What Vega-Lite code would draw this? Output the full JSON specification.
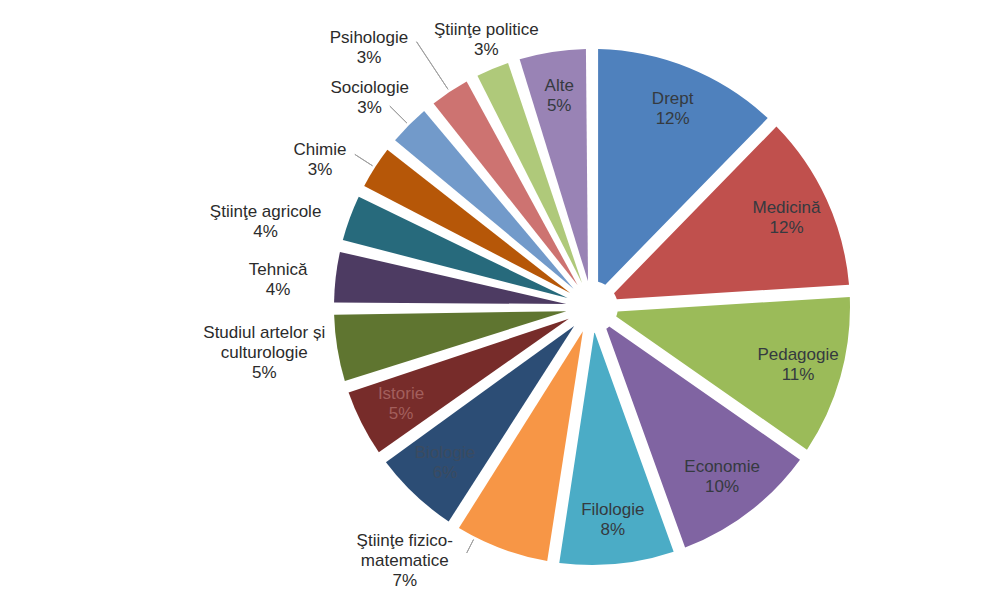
{
  "$schema": "https://vega.github.io/schema/vega-lite/v6.json",
  "width": 516,
  "height": 516,
  "autosize": {"type": "none"},
  "padding": {"left": 334, "top": 49, "right": 150, "bottom": 27},
  "background": "white",
  "config": {"view": {"stroke": null}, "text": {"font": "Liberation Sans"}},
  "data": {
    "values": [
      {"i": 1, "cat": "Drept", "v": 12.3},
      {"i": 2, "cat": "Medicină", "v": 11.7},
      {"i": 3, "cat": "Pedagogie", "v": 10.7},
      {"i": 4, "cat": "Economie", "v": 9.8},
      {"i": 5, "cat": "Filologie", "v": 7.9},
      {"i": 6, "cat": "Ştiinţe fizico-\nmatematice", "v": 6.6},
      {"i": 7, "cat": "Biologie", "v": 6.1},
      {"i": 8, "cat": "Istorie", "v": 4.9},
      {"i": 9, "cat": "Studiul artelor și\nculturologie", "v": 4.9},
      {"i": 10, "cat": "Tehnică", "v": 3.9},
      {"i": 11, "cat": "Ştiinţe agricole", "v": 3.6},
      {"i": 12, "cat": "Chimie", "v": 3.4},
      {"i": 13, "cat": "Sociologie", "v": 3.3},
      {"i": 14, "cat": "Psihologie", "v": 3.2},
      {"i": 15, "cat": "Ştiinţe politice", "v": 2.8},
      {"i": 16, "cat": "Alte", "v": 4.9}
    ]
  },
  "transform": [
    {"stack": "v", "groupby": [], "sort": [{"field": "i", "order": "ascending"}], "as": ["s0", "s1"]},
    {"calculate": "(datum.s0 + datum.s1) / 2", "as": "mid"},
    {"calculate": "datum.cat + '\\n' + format(datum.v, '.0f') + '%'", "as": "lbl"}
  ],
  "layer": [
    {
      "mark": {"type": "arc", "outerRadius": 258, "innerRadius": 26, "padAngle": 0.047},
      "encoding": {
        "theta": {"field": "s0", "type": "quantitative", "stack": null, "scale": {"domain": [0, 100]}},
        "theta2": {"field": "s1"},
        "color": {
          "field": "cat",
          "type": "nominal",
          "legend": null,
          "scale": {
            "domain": ["Drept", "Medicină", "Pedagogie", "Economie", "Filologie", "Ştiinţe fizico-\nmatematice", "Biologie", "Istorie", "Studiul artelor și\nculturologie", "Tehnică", "Ştiinţe agricole", "Chimie", "Sociologie", "Psihologie", "Ştiinţe politice", "Alte"],
            "range": ["#4F81BD", "#C0504D", "#9BBB59", "#8064A2", "#4BACC6", "#F79646", "#2C4D75", "#772C2A", "#5F7530", "#4D3B62", "#276A7C", "#B65708", "#729ACA", "#CD7371", "#AFC97A", "#9983B5"]
          }
        }
      }
    },
    {
      "transform": [{"filter": "indexof([1, 2, 3, 4, 5, 7, 8, 16], datum.i) >= 0"}],
      "mark": {"type": "text", "radius": 214, "dy": -10, "fontSize": 17, "lineHeight": 20, "lineBreak": "\n", "align": "center", "baseline": "middle"},
      "encoding": {
        "theta": {"field": "mid", "type": "quantitative", "stack": null, "scale": {"domain": [0, 100]}},
        "text": {"field": "lbl"},
        "color": {
          "condition": [
            {"test": "datum.i === 8", "value": "#a35f5c"},
            {"test": "datum.i === 7", "value": "#3b4b60"}
          ],
          "value": "#353a40"
        }
      }
    },
    {
      "transform": [{"filter": "datum.i === 15"}],
      "mark": {"type": "text", "radius": 287, "dx": 5, "dy": -12, "fontSize": 17, "lineHeight": 20, "lineBreak": "\n", "align": "center", "baseline": "middle", "color": "#2b2b2b"},
      "encoding": {"theta": {"field": "mid", "type": "quantitative", "stack": null, "scale": {"domain": [0, 100]}}, "text": {"field": "lbl"}}
    },
    {
      "transform": [{"filter": "datum.i === 14"}],
      "mark": {"type": "text", "radius": 339, "dx": -36, "dy": 14, "fontSize": 17, "lineHeight": 20, "lineBreak": "\n", "align": "center", "baseline": "middle", "color": "#2b2b2b"},
      "encoding": {"theta": {"field": "mid", "type": "quantitative", "stack": null, "scale": {"domain": [0, 100]}}, "text": {"field": "lbl"}}
    },
    {
      "transform": [{"filter": "datum.i === 13"}],
      "mark": {"type": "text", "radius": 305, "dx": -6, "dy": -4, "fontSize": 17, "lineHeight": 20, "lineBreak": "\n", "align": "center", "baseline": "middle", "color": "#2b2b2b"},
      "encoding": {"theta": {"field": "mid", "type": "quantitative", "stack": null, "scale": {"domain": [0, 100]}}, "text": {"field": "lbl"}}
    },
    {
      "transform": [{"filter": "datum.i === 12"}],
      "mark": {"type": "text", "radius": 308, "dx": -13, "dy": 10, "fontSize": 17, "lineHeight": 20, "lineBreak": "\n", "align": "center", "baseline": "middle", "color": "#2b2b2b"},
      "encoding": {"theta": {"field": "mid", "type": "quantitative", "stack": null, "scale": {"domain": [0, 100]}}, "text": {"field": "lbl"}}
    },
    {
      "transform": [{"filter": "datum.i === 11"}],
      "mark": {"type": "text", "radius": 336, "dx": -11, "dy": 21, "fontSize": 17, "lineHeight": 20, "lineBreak": "\n", "align": "center", "baseline": "middle", "color": "#2b2b2b"},
      "encoding": {"theta": {"field": "mid", "type": "quantitative", "stack": null, "scale": {"domain": [0, 100]}}, "text": {"field": "lbl"}}
    },
    {
      "transform": [{"filter": "datum.i === 10"}],
      "mark": {"type": "text", "radius": 315, "dx": -1, "dy": 0, "fontSize": 17, "lineHeight": 20, "lineBreak": "\n", "align": "center", "baseline": "middle", "color": "#2b2b2b"},
      "encoding": {"theta": {"field": "mid", "type": "quantitative", "stack": null, "scale": {"domain": [0, 100]}}, "text": {"field": "lbl"}}
    },
    {
      "transform": [{"filter": "datum.i === 9"}],
      "mark": {"type": "text", "radius": 331, "dx": -1, "dy": -27, "fontSize": 17, "lineHeight": 20, "lineBreak": "\n", "align": "center", "baseline": "middle", "color": "#2b2b2b"},
      "encoding": {"theta": {"field": "mid", "type": "quantitative", "stack": null, "scale": {"domain": [0, 100]}}, "text": {"field": "lbl"}}
    },
    {
      "transform": [{"filter": "datum.i === 6"}],
      "mark": {"type": "text", "radius": 303, "dx": -81, "dy": -50, "fontSize": 17, "lineHeight": 20, "lineBreak": "\n", "align": "center", "baseline": "middle", "color": "#2b2b2b"},
      "encoding": {"theta": {"field": "mid", "type": "quantitative", "stack": null, "scale": {"domain": [0, 100]}}, "text": {"field": "lbl"}}
    },
    {
      "transform": [{"filter": "datum.i === 14"}],
      "mark": {"type": "arc", "radius": 318, "radius2": 261, "filled": false, "color": "#a0a0a0", "strokeWidth": 1},
      "encoding": {"theta": {"field": "mid", "type": "quantitative", "stack": null, "scale": {"domain": [0, 100]}}, "theta2": {"field": "mid"}}
    },
    {
      "transform": [{"filter": "datum.i === 13"}],
      "mark": {"type": "arc", "radius": 285, "radius2": 261, "filled": false, "color": "#a0a0a0", "strokeWidth": 1},
      "encoding": {"theta": {"field": "mid", "type": "quantitative", "stack": null, "scale": {"domain": [0, 100]}}, "theta2": {"field": "mid"}}
    },
    {
      "transform": [{"filter": "datum.i === 12"}],
      "mark": {"type": "arc", "radius": 282, "radius2": 261, "filled": false, "color": "#a0a0a0", "strokeWidth": 1},
      "encoding": {"theta": {"field": "mid", "type": "quantitative", "stack": null, "scale": {"domain": [0, 100]}}, "theta2": {"field": "mid"}}
    },
    {
      "transform": [{"filter": "datum.i === 6"}],
      "mark": {"type": "arc", "radius": 276, "radius2": 261, "thetaOffset": 0.113, "theta2Offset": 0.113, "filled": false, "color": "#a0a0a0", "strokeWidth": 1},
      "encoding": {"theta": {"field": "mid", "type": "quantitative", "stack": null, "scale": {"domain": [0, 100]}}, "theta2": {"field": "mid"}}
    }
  ]
}
